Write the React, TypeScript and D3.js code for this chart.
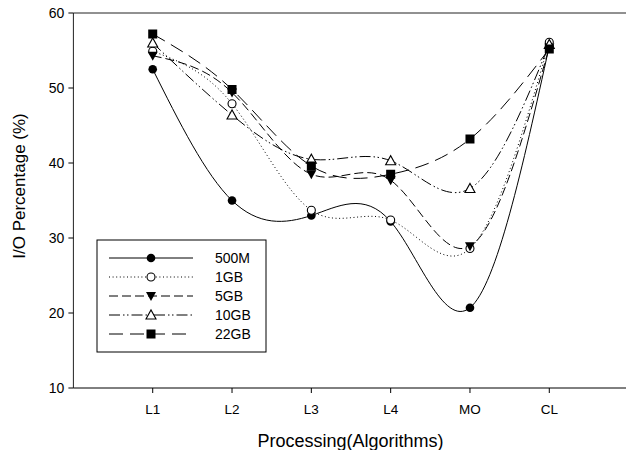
import React from 'react';
import * as d3 from 'd3';

const categories = ['L1', 'L2', 'L3', 'L4', 'MO', 'CL'];
const s500M = [52.5, 35.0, 33.0, 32.2, 20.7, 55.6];
const s1GB = [54.9, 47.9, 33.7, 32.4, 28.6, 56.1];
const s5GB = [54.3, 49.4, 38.5, 37.7, 28.9, 55.4];
const s10GB = [56.0, 46.4, 40.5, 40.3, 36.6, 55.8];
const s22GB = [57.2, 49.8, 39.6, 38.5, 43.2, 55.2];
const seriesNames = ['500M', '1GB', '5GB', '10GB', '22GB'];
const yTicks = [10, 20, 30, 40, 50, 60];

const W = 626;
const H = 450;
const FONT = '"Liberation Sans", Arial, sans-serif';

type Marker = 'circleFilled' | 'circleOpen' | 'triDown' | 'triUp' | 'square';

const styles: { dash: string; marker: Marker }[] = [
  { dash: 'none', marker: 'circleFilled' },
  { dash: '1,2.6', marker: 'circleOpen' },
  { dash: '9,4', marker: 'triDown' },
  { dash: '11,3,1.5,2.5,1.5,3', marker: 'triUp' },
  { dash: '14,7', marker: 'square' },
];

const seriesValues = [s500M, s1GB, s5GB, s10GB, s22GB];

function MarkerShape({ type, x, y }: { type: Marker; x: number; y: number }) {
  switch (type) {
    case 'circleFilled':
      return <circle cx={x} cy={y} r={4.3} fill="#000" />;
    case 'circleOpen':
      return <circle cx={x} cy={y} r={4} fill="#fff" stroke="#000" strokeWidth={1.1} />;
    case 'triDown':
      return <path d={`M${x - 5},${y - 4} L${x + 5},${y - 4} L${x},${y + 5} Z`} fill="#000" />;
    case 'triUp':
      return <path d={`M${x - 5},${y + 4} L${x + 5},${y + 4} L${x},${y - 5} Z`} fill="#fff" stroke="#000" strokeWidth={1.1} />;
    case 'square':
      return <rect x={x - 4.5} y={y - 4.5} width={9} height={9} fill="#000" />;
  }
}

export default function App() {
  const x = d3.scaleLinear().domain([0, 7]).range([73.4, 628.6]);
  const y = d3.scaleLinear().domain([10, 60]).range([388, 13]);
  const line = d3
    .line<number>()
    .x((_, i) => x(i + 1))
    .y((d) => y(d))
    .curve(d3.curveNatural);

  const legendX = 97;
  const legendY = 240;
  const legendRows = [258, 277, 296, 315, 334];

  return (
    <svg
      width={W}
      height={H}
      style={{ position: 'absolute', left: 0, top: 0, background: '#fff' }}
      fontFamily={FONT}
    >
      <rect x={0} y={0} width={W} height={H} fill="#fff" />
      {/* frame */}
      <line x1={x(0)} x2={W} y1={y(60)} y2={y(60)} stroke="#222" strokeWidth={1} />
      <line x1={x(0)} x2={W} y1={y(10)} y2={y(10)} stroke="#000" strokeWidth={1} />
      <line x1={x(0)} x2={x(0)} y1={y(60)} y2={y(10)} stroke="#222" strokeWidth={1} />
      {/* y ticks */}
      {yTicks.map((t) => (
        <g key={t}>
          <line x1={x(0) - 5} x2={x(0)} y1={y(t)} y2={y(t)} stroke="#000" />
          <text x={x(0) - 9} y={y(t)} dy="0.36em" textAnchor="end" fontSize={14} fill="#000">
            {t}
          </text>
        </g>
      ))}
      {/* x ticks */}
      {categories.map((c, i) => (
        <g key={c}>
          <line x1={x(i + 1)} x2={x(i + 1)} y1={y(10)} y2={y(10) + 5} stroke="#000" />
          <text x={x(i + 1)} y={414} textAnchor="middle" fontSize={13.5} fill="#000">
            {c}
          </text>
        </g>
      ))}
      <text x={350.5} y={447} textAnchor="middle" fontSize={18} fill="#000">
        Processing(Algorithms)
      </text>
      <text
        transform={`translate(18.5,186) rotate(-90)`}
        textAnchor="middle"
        dy="0.36em"
        fontSize={17}
        fill="#000"
      >
        I/O Percentage (%)
      </text>
      {/* series lines */}
      {seriesValues.map((vals, si) => (
        <path
          key={`l${si}`}
          d={line(vals) || ''}
          fill="none"
          stroke="#000"
          strokeWidth={1}
          strokeDasharray={styles[si].dash}
        />
      ))}
      {/* markers */}
      {seriesValues.map((vals, si) => (
        <g key={`m${si}`}>
          {vals.map((v, i) => (
            <MarkerShape key={i} type={styles[si].marker} x={x(i + 1)} y={y(v)} />
          ))}
        </g>
      ))}
      {/* legend */}
      <rect x={legendX} y={legendY} width={169} height={112} fill="#fff" stroke="#000" strokeWidth={1} />
      {seriesNames.map((n, si) => (
        <g key={n}>
          <line
            x1={109}
            x2={193}
            y1={legendRows[si]}
            y2={legendRows[si]}
            stroke="#000"
            strokeWidth={1}
            strokeDasharray={styles[si].dash}
          />
          <MarkerShape type={styles[si].marker} x={151} y={legendRows[si]} />
          <text x={215} y={legendRows[si]} dy="0.36em" fontSize={14} fill="#000">
            {n}
          </text>
        </g>
      ))}
    </svg>
  );
}
